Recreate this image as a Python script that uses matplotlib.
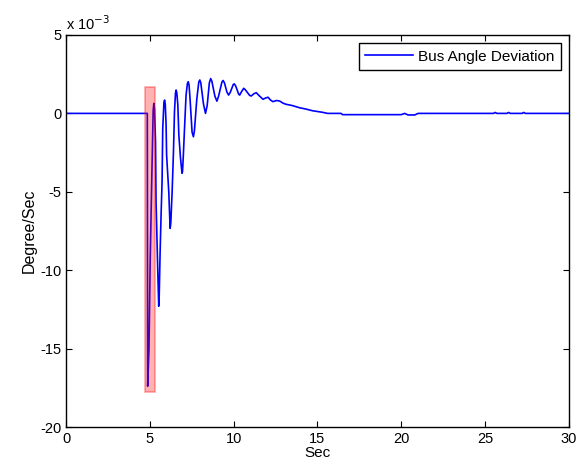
import matplotlib.pyplot as plt
from matplotlib.patches import Rectangle
from matplotlib.ticker import FuncFormatter

plt.rcParams['font.family'] = ['Liberation Sans', 'DejaVu Sans']

# time (s) and bus angle deviation (x 1e-3 degree/sec)
t = [0, 4.85, 4.87, 4.95, 5.02, 5.12, 5.2, 5.24, 5.28, 5.34, 5.37, 5.47, 5.53,
     5.56, 5.61, 5.67, 5.73, 5.77, 5.84, 5.88, 5.92, 5.97, 6.0, 6.07, 6.13,
     6.21, 6.25, 6.33, 6.41, 6.47, 6.53, 6.57, 6.61, 6.67, 6.73, 6.83, 6.92,
     6.95, 7.0, 7.06, 7.16, 7.24, 7.29, 7.34, 7.4, 7.52, 7.6, 7.66, 7.8, 7.92,
     7.98, 8.04, 8.2, 8.32, 8.42, 8.55, 8.63, 8.7, 8.88, 9.0, 9.1, 9.3, 9.37,
     9.45, 9.6, 9.7, 9.8, 9.98, 10.04, 10.12, 10.3, 10.36, 10.45, 10.6, 10.7,
     10.95, 11.05, 11.2, 11.35, 11.5, 11.75, 11.9, 12.05, 12.2, 12.34, 12.55,
     12.74, 12.95, 13.13, 13.5, 13.93, 14.3, 14.7, 15.3, 15.6, 16.4, 16.5,
     20.0, 20.2, 20.4, 20.8, 21.0, 25.5, 25.6, 25.7, 26.3, 26.4, 26.5, 27.2,
     27.3, 27.4, 30]
dev = [0, 0, -17.4, -15.0, -9.46, -3.93, 0.2, 0.64, 0.3, -1.8, -5.6, -9.9,
       -12.3, -11.6, -9.0, -6.5, -4.35, -0.95, 0.7, 0.85, 0.6, -0.74, -2.65,
       -3.93, -5.0, -7.33, -7.0, -5.0, -2.44, 0.11, 1.3, 1.49, 1.3, 0.54,
       -1.38, -2.86, -3.82, -3.7, -2.65, -1.17, 1.17, 1.9, 2.02, 1.8, 0.9,
       -1.2, -1.49, -1.1, 0.9, 2.0, 2.13, 1.95, 0.6, 0.0, 0.5, 1.95, 2.22,
       2.05, 1.1, 0.78, 1.1, 2.0, 2.1, 1.95, 1.35, 1.17, 1.35, 1.85, 1.88,
       1.75, 1.22, 1.17, 1.35, 1.6, 1.5, 1.15, 1.11, 1.25, 1.32, 1.15, 0.9,
       0.98, 1.03, 0.85, 0.75, 0.82, 0.79, 0.65, 0.58, 0.5, 0.36, 0.28, 0.17,
       0.07, 0.0, 0.0, -0.08, -0.08, 0.0, -0.1, -0.1, 0.0, 0.0, 0.06, 0.0,
       0.0, 0.06, 0.0, 0.0, 0.06, 0.0, 0.0]

# highlighted window
box_t = [4.71, 5.3]
box_v = [-17.75, 1.68]

fig = plt.figure(figsize=(5.8, 4.71), dpi=100)
ax = fig.add_axes([0.1138, 0.0934, 0.8672, 0.8323])

ax.plot(t, [v * 1e-3 for v in dev], c='blue', lw=1.2, label='Bus Angle Deviation')
ax.add_patch(Rectangle((box_t[0], box_v[0] * 1e-3), box_t[1] - box_t[0],
                       (box_v[1] - box_v[0]) * 1e-3, facecolor=(1, 0, 0, 0.3),
                       edgecolor=(1, 0, 0, 0.35), lw=1.2, zorder=3))

ax.set_xlim(0, 30)
ax.set_ylim(-20e-3, 5e-3)
ax.set_xticks([0, 5, 10, 15, 20, 25, 30])
ax.set_yticks([-20e-3, -15e-3, -10e-3, -5e-3, 0, 5e-3])
ax.yaxis.set_major_formatter(FuncFormatter(lambda v, p: '%g' % round(v * 1e3)))
ax.tick_params(direction='in', top=True, right=True, labelsize=10.5, length=4)
for s in ax.spines.values():
    s.set_linewidth(1)
ax.text(0.0, 1.005, r'x 10$^{-3}$', transform=ax.transAxes, fontsize=10.5,
        ha='left', va='bottom')

ax.set_xlabel('Sec', fontsize=11, labelpad=0)
ax.set_ylabel('Degree/Sec', fontsize=11.5, labelpad=2)
leg = ax.legend(loc='upper right', fontsize=11, fancybox=False, framealpha=1,
                edgecolor='black', borderaxespad=0.5, borderpad=0.45,
                handlelength=3.1, handletextpad=0.35)
leg.get_frame().set_linewidth(1)

plt.savefig('out.png', dpi=100)
